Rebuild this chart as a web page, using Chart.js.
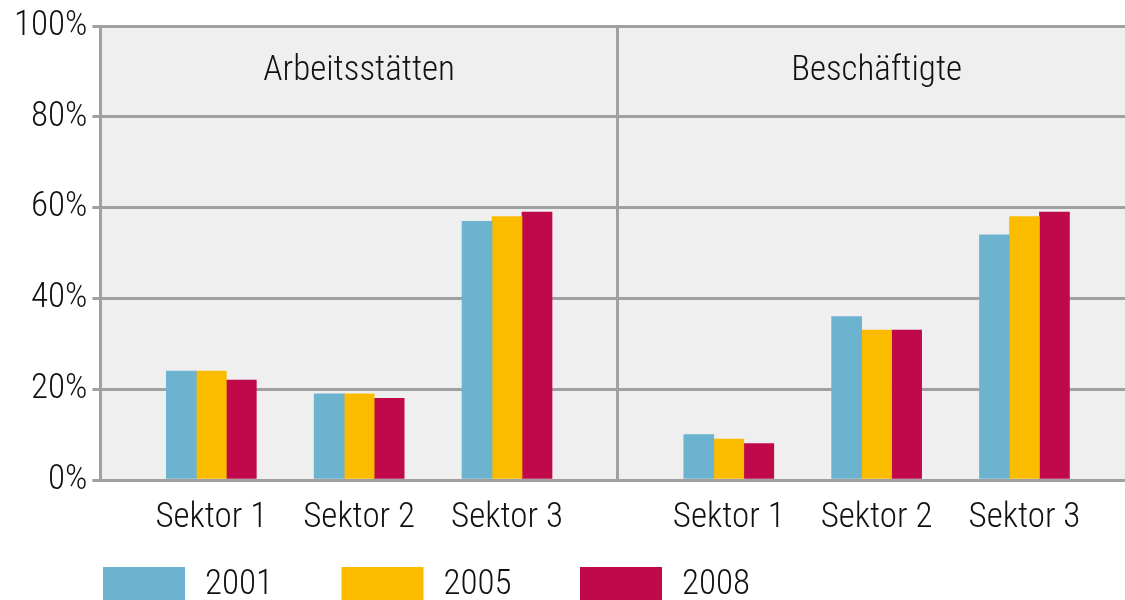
<!DOCTYPE html>
<html>
<head>
<meta charset="utf-8">
<script src="https://cdn.jsdelivr.net/npm/chart.js@4/dist/chart.umd.min.js"></script>
<style>
  html, body { margin: 0; padding: 0; background: #fff; overflow: hidden; }
  #wrap { width: 1125px; height: 600px; position: relative; }
</style>
</head>
<body>
<div id="wrap"><canvas id="canvas"></canvas></div>
<script>
// data
const panels = ['Arbeitsstätten', 'Beschäftigte'];
const categories = ['Sektor 1', 'Sektor 2', 'Sektor 3'];
const years = ['2001', '2005', '2008'];
const values2001 = [24, 19, 57, 10, 36, 54];
const values2005 = [24, 19, 58, 9, 33, 58];
const values2008 = [22, 18, 59, 8, 33, 59];
const yTicks = [0, 20, 40, 60, 80, 100];

const colors = ['#6cb3d0', '#fbbc00', '#c0094a'];
const FONT = '"Roboto Condensed", "DejaVu Sans Condensed", Roboto, sans-serif';
const FONT_SIZE = 35;
const FONT_WEIGHT = 300;
const GRID = '#a0a0a0';

// each panel is 3.5 units wide, sectors sit at 1, 2, 3 inside it
const PANEL_W = 3.5;
function xPos(i) {
  const p = Math.floor(i / categories.length);
  return p * PANEL_W + (i % categories.length) + 1;
}
const dividers = panels.slice(1).map((p, i) => (i + 1) * PANEL_W + 0.25);
const xTickValues = [];
const xTickLabels = {};
panels.forEach((p, pi) => {
  categories.forEach((c, ci) => {
    const v = xPos(pi * categories.length + ci);
    xTickValues.push(v);
    xTickLabels[v] = c;
  });
});
dividers.forEach(d => { xTickValues.push(d); xTickLabels[d] = ''; });
xTickValues.sort((a, b) => a - b);

const seriesValues = [values2001, values2005, values2008];

const plotBackground = {
  id: 'plotBackground',
  beforeDraw(chart) {
    const a = chart.chartArea;
    const ctx = chart.ctx;
    ctx.save();
    ctx.fillStyle = '#efefef';
    ctx.fillRect(a.left, a.top, a.right - a.left, a.bottom - a.top);
    ctx.restore();
  }
};

// panel titles in the upper band
const panelTitles = {
  id: 'panelTitles',
  afterDatasetsDraw(chart) {
    const ctx = chart.ctx;
    const x = chart.scales.x;
    const y = chart.scales.y;
    ctx.save();
    ctx.font = FONT_WEIGHT + ' ' + FONT_SIZE + 'px ' + FONT;
    ctx.fillStyle = '#111';
    ctx.textAlign = 'center';
    ctx.textBaseline = 'middle';
    panels.forEach((p, i) => {
      ctx.fillText(p, x.getPixelForValue(i * PANEL_W + 2), y.getPixelForValue(90));
    });
    ctx.restore();
  }
};

// legend row at the bottom
const bottomLegend = {
  id: 'bottomLegend',
  afterDraw(chart) {
    const ctx = chart.ctx;
    ctx.save();
    ctx.font = FONT_WEIGHT + ' ' + FONT_SIZE + 'px ' + FONT;
    ctx.textBaseline = 'middle';
    ctx.textAlign = 'left';
    chart.data.datasets.forEach((ds, i) => {
      const left = 103 + i * 238.5;
      ctx.fillStyle = ds.backgroundColor;
      ctx.fillRect(left, 567, 82, 34);
      ctx.fillStyle = '#111';
      ctx.fillText(ds.label, left + 102, 585);
    });
    ctx.restore();
  }
};

var canvas = document.getElementById('canvas');
var myChart = new Chart(canvas, {
  type: 'bar',
  data: {
    datasets: years.map((yr, k) => ({
      label: yr,
      data: seriesValues[k].map((v, i) => ({ x: xPos(i), y: v })),
      backgroundColor: colors[k],
      borderWidth: 0,
      barThickness: 30
    }))
  },
  options: {
    responsive: true,
    maintainAspectRatio: false,
    animation: false,
    layout: { padding: { top: 17, left: 9, right: 0, bottom: 44 } },
    plugins: {
      legend: { display: false },
      tooltip: { enabled: false }
    },
    scales: {
      x: {
        type: 'linear',
        offset: false,
        min: 0.25,
        max: 7.18,
        afterBuildTicks(scale) {
          scale.ticks = xTickValues.map(v => ({ value: v }));
        },
        ticks: {
          autoSkip: false,
          maxRotation: 0,
          padding: 17,
          color: '#111',
          font: { family: FONT, size: FONT_SIZE, weight: FONT_WEIGHT },
          callback: value => xTickLabels[value]
        },
        grid: {
          offset: false,
          drawTicks: false,
          lineWidth: 3,
          color: ctx => (ctx.tick && dividers.includes(ctx.tick.value)) ? GRID : 'rgba(0,0,0,0)'
        },
        border: { display: true, color: GRID, width: 3 }
      },
      y: {
        min: 0,
        max: 100,
        afterBuildTicks(scale) {
          scale.ticks = yTicks.map(v => ({ value: v }));
        },
        ticks: {
          padding: 5,
          color: '#111',
          font: { family: FONT, size: FONT_SIZE, weight: FONT_WEIGHT },
          callback: value => value + '%'
        },
        grid: { color: GRID, lineWidth: 3, tickLength: 8 },
        border: { display: true, color: GRID, width: 3 }
      }
    }
  },
  plugins: [plotBackground, panelTitles, bottomLegend]
});
</script>
</body>
</html>
